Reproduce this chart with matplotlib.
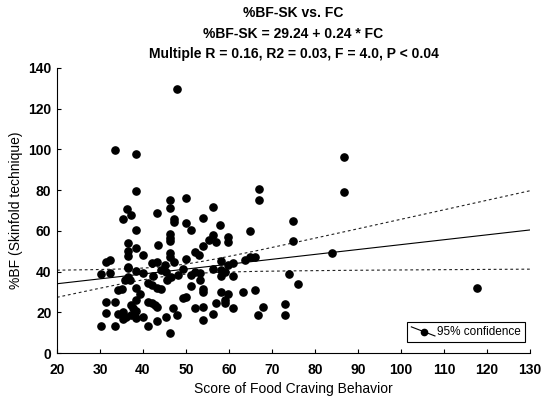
import numpy as np
import matplotlib
matplotlib.use("Agg")
import matplotlib.pyplot as plt
from matplotlib.lines import Line2D
from matplotlib.legend_handler import HandlerBase

plt.rcParams['font.family'] = ['Liberation Sans', 'DejaVu Sans']

# Scatter data: (Food Craving score, %BF skinfold)
fc_score = [
    48.0, 33.4, 38.3, 38.3, 46.3, 50.0, 46.3, 36.3, 37.2, 43.3,
    56.2, 35.3, 47.1, 47.1, 54.0, 50.0, 58.0, 38.4, 51.2, 46.3,
    46.3, 46.3, 36.4, 43.4, 56.2, 55.3, 57.1, 59.8, 59.8, 54.0,
    38.4, 36.4, 36.4, 40.1, 46.3, 46.3, 52.2, 53.1, 50.0, 31.3,
    32.3, 42.2, 43.3, 45.1, 47.1, 58.1, 59.8, 61.0, 63.7, 64.9,
    66.0, 36.4, 38.4, 30.2, 32.3, 40.1, 44.1, 45.3, 42.4, 48.2,
    49.2, 51.2, 52.2, 53.3, 56.2, 58.1, 59.1, 58.1, 61.0, 35.8,
    36.4, 37.0, 36.4, 41.2, 42.2, 43.2, 44.2, 45.7, 46.5, 51.1,
    53.3, 54.0, 54.0, 58.1, 59.8, 63.2, 66.1, 34.3, 35.2, 38.3,
    39.3, 31.3, 33.4, 38.4, 37.3, 37.7, 38.4, 41.2, 42.2, 42.8,
    43.3, 31.4, 34.3, 35.4, 36.0, 37.1, 35.3, 38.4, 40.1, 47.0,
    47.8, 45.3, 43.3, 30.2, 33.4, 41.2, 46.3, 52.2, 54.0, 54.0,
    56.2, 57.1, 59.1, 59.1, 61.0, 66.8, 49.4, 50.0, 68.0, 86.8,
    86.8, 67.0, 67.0, 65.0, 75.0, 75.0, 83.9, 73.9, 76.1, 73.1,
    73.1, 117.6,
]
bf_sk = [
    129.7, 99.6, 97.9, 79.7, 75.1, 76.3, 71.2, 70.7, 67.8, 68.9,
    71.9, 65.8, 65.8, 64.5, 66.5, 64.0, 62.9, 60.4, 60.4, 58.4,
    56.3, 55.2, 53.9, 53.2, 58.0, 55.5, 54.7, 57.1, 54.7, 52.6,
    51.4, 50.2, 47.6, 48.0, 48.9, 47.3, 49.6, 48.1, 46.2, 44.5,
    45.7, 44.0, 44.7, 43.2, 44.8, 45.2, 43.2, 44.0, 45.7, 47.0,
    47.0, 42.4, 40.4, 38.8, 39.1, 39.1, 40.8, 39.6, 37.8, 38.3,
    41.1, 38.2, 39.9, 39.4, 41.1, 40.8, 39.9, 37.8, 37.8, 35.9,
    37.5, 35.9, 41.6, 34.2, 33.4, 31.8, 31.3, 35.9, 37.2, 32.9,
    35.7, 31.3, 29.9, 29.9, 28.8, 30.1, 30.9, 30.9, 31.6, 31.8,
    29.0, 25.2, 25.2, 26.3, 23.6, 22.3, 20.6, 25.2, 24.7, 23.6,
    22.7, 19.5, 19.2, 20.1, 17.8, 18.7, 16.5, 17.0, 17.8, 21.9,
    18.7, 17.8, 15.7, 13.4, 13.4, 13.4, 10.0, 21.9, 22.4, 16.2,
    19.2, 24.7, 26.3, 24.4, 21.9, 18.7, 27.2, 27.7, 22.4, 96.1,
    79.1, 80.4, 75.1, 59.9, 65.0, 54.9, 49.1, 38.8, 33.7, 24.2,
    18.5, 32.1,
]

# Regression (from title) and 95% confidence band parameters
intercept = 29.24
slope = 0.24
ci_center_x = 47.0
ci_a = 2.4
ci_b = 0.23

x_ticks = [20, 30, 40, 50, 60, 70, 80, 90, 100, 110, 120, 130]
y_ticks = [0, 20, 40, 60, 80, 100, 120, 140]

title_lines = ["%BF-SK vs. FC",
               "%BF-SK = 29.24 + 0.24 * FC",
               "Multiple R = 0.16, R2 = 0.03, F = 4.0, P < 0.04"]


class DiagHandler(HandlerBase):
    def create_artists(self, legend, orig_handle, xdescent, ydescent,
                       width, height, fontsize, trans):
        x0 = -xdescent
        y0 = -ydescent
        ln = Line2D([x0, x0 + width], [y0 + height, y0 - height * 0.1],
                    color='k', lw=0.8, transform=trans)
        mk = Line2D([x0 + width * 0.55], [y0 + height * 0.4], marker='o',
                    ms=4.5, color='k', linestyle='none', transform=trans)
        return [ln, mk]


fig = plt.figure(figsize=(5.48, 4.04), dpi=100)
ax = fig.add_axes([0.104, 0.126, 0.863, 0.706])

ax.plot(fc_score, bf_sk, 'o', color='k', ms=5.2, mec='k', zorder=3)

xs = np.linspace(x_ticks[0], x_ticks[-1], 200)
fit = intercept + slope * xs
hw = np.sqrt(ci_a ** 2 + (ci_b * (xs - ci_center_x)) ** 2)
ax.plot(xs, fit, color='k', lw=0.8)
ax.plot(xs, fit + hw, color='#222222', lw=0.8, linestyle=(0, (2.5, 2.5)))
ax.plot(xs, fit - hw, color='#222222', lw=0.8, linestyle=(0, (2.5, 2.5)))

ax.set_xlim(x_ticks[0], x_ticks[-1])
ax.set_ylim(y_ticks[0], y_ticks[-1])
ax.set_xticks(x_ticks)
ax.set_yticks(y_ticks)
for sp in ['top', 'right']:
    ax.spines[sp].set_visible(False)
ax.spines['left'].set_linewidth(0.8)
ax.spines['bottom'].set_linewidth(0.8)
ax.tick_params(direction='in', length=3, width=0.8, labelsize=10)
ax.tick_params(axis='x', pad=7)
ax.tick_params(axis='y', pad=4)
for lab in ax.get_xticklabels() + ax.get_yticklabels():
    lab.set_fontweight('bold')

ax.set_xlabel("Score of Food Craving Behavior", fontsize=10, labelpad=4)
ax.set_ylabel("%BF (Skinfold technique)", fontsize=10, labelpad=4)
ax.set_title("\n".join(title_lines), fontsize=10, fontweight='bold',
             linespacing=1.6, pad=7)

handle = Line2D([], [], color='k')
leg = ax.legend([handle], ["95% confidence"], handler_map={Line2D: DiagHandler()},
                loc='lower right', bbox_to_anchor=(0.99, 0.038),
                fancybox=False, framealpha=1, edgecolor='k', fontsize=8.5,
                handlelength=2.0, handletextpad=0.2, borderpad=0.35,
                borderaxespad=0)
leg.get_frame().set_linewidth(0.8)

fig.savefig("out.png", dpi=100)
